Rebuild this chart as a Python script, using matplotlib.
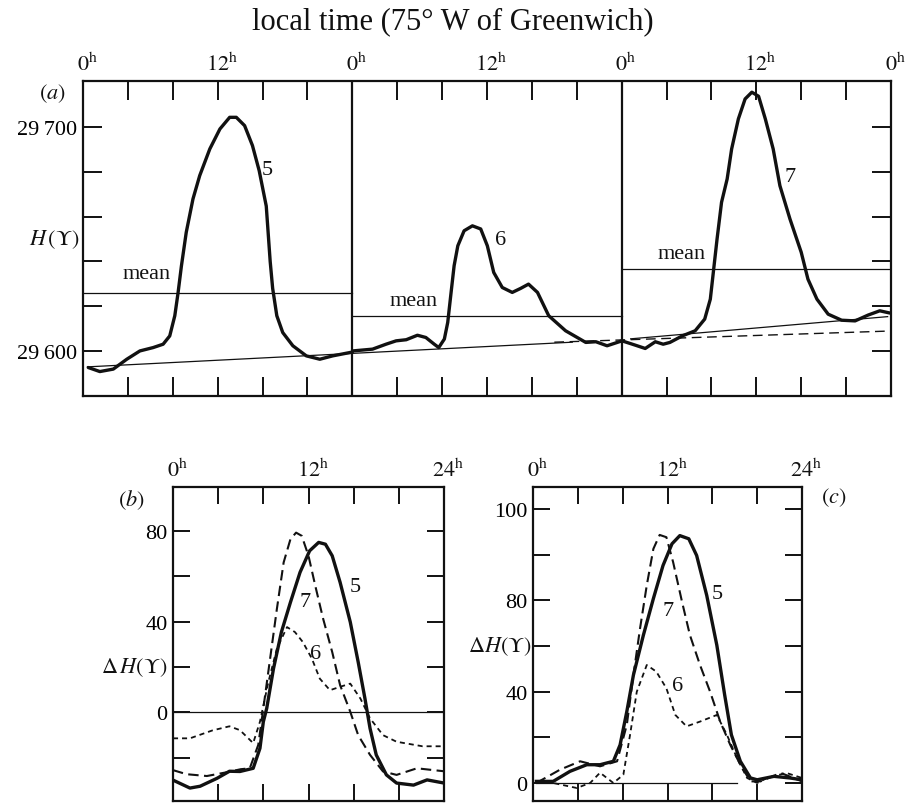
import matplotlib
matplotlib.use("Agg")
import matplotlib.pyplot as plt

plt.rcParams["font.family"] = ["Liberation Serif", "DejaVu Serif"]
plt.rcParams["mathtext.fontset"] = "stix"

# ── (a) H over three days, hours from 0h of day 5 ─────────────────────────
t_day5 = [0.47, 1.5, 2.7, 3.9, 5.07, 6.25, 7.14, 7.73, 8.18, 8.47, 8.77, 9.2, 9.8,
          10.4, 11.3, 12.2, 13.07, 13.66, 14.4, 15.1, 15.7, 16.33, 16.68, 16.9,
          17.27, 17.8, 18.7, 19.9, 21.1, 22.25, 24.0]
h_day5 = [29592.7, 29590.9, 29592.0, 29596.4, 29600.1, 29601.6, 29603.1, 29606.8,
          29615.8, 29626.0, 29638.0, 29653.0, 29667.9, 29678.3, 29690.2, 29699.1,
          29704.3, 29704.3, 29700.6, 29691.7, 29680.5, 29664.7, 29640.0, 29628.0,
          29615.8, 29608.3, 29602.4, 29597.9, 29596.4, 29597.9, 29599.6]
t_day6 = [24.03, 25.8, 27.0, 27.9, 28.8, 29.8, 30.55, 31.3, 31.7, 32.2, 32.5, 32.8,
          33.07, 33.4, 33.96, 34.7, 35.44, 36.03, 36.6, 37.36, 38.25, 39.0, 39.7,
          40.5, 41.5, 43.0, 44.8, 45.7, 46.7, 48.03]
h_day6 = [29600.1, 29600.9, 29603.1, 29604.6, 29605.1, 29607.1, 29606.1, 29603.1,
          29601.6, 29605.4, 29612.8, 29626.2, 29638.1, 29647.0, 29653.7, 29655.9,
          29654.5, 29647.0, 29635.1, 29628.4, 29626.2, 29628.0, 29629.9, 29626.2,
          29615.8, 29609.1, 29603.9, 29604.2, 29602.4, 29604.6]
t_day7 = [48.03, 49.2, 50.1, 51.0, 51.7, 52.3, 53.4, 54.55, 55.4, 55.9, 56.2, 56.5,
          56.9, 57.4, 57.8, 58.4, 59.0, 59.6, 60.2, 60.8, 61.5, 62.1, 63.0, 64.0,
          64.6, 65.4, 66.4, 67.6, 68.8, 69.96, 71.0, 71.9]
h_day7 = [29604.6, 29602.7, 29601.2, 29604.2, 29603.1, 29603.9, 29606.8, 29609.1,
          29614.3, 29623.2, 29636.6, 29650.0, 29666.4, 29676.8, 29690.2, 29703.6,
          29712.5, 29715.5, 29713.7, 29703.6, 29690.2, 29673.8, 29658.9, 29644.1,
          29632.1, 29623.2, 29616.5, 29613.8, 29613.5, 29616.1, 29618.0, 29617.0]
day_means = [29626.0, 29615.7, 29636.6]
base_t = [0.4, 43.6]
base_h = [29593.0, 29604.0]
base7_t = [48.8, 71.7]
base7_h = [29605.5, 29615.4]
dash_t = [42.0, 72.0]
dash_h = [29604.0, 29609.0]
top_hours_a = [0, 12, 24, 36, 48, 60, 72]
top_text_a = ["0", "12", "0", "12", "0", "12", "0"]

# ── (b) deviation from daily mean ─────────────────────────────────────────
tb5 = [0, 1.5, 2.4, 3.9, 5.0, 5.93, 7.1, 7.7, 8.0, 8.3, 8.9, 9.6, 10.4, 11.25,
       12.1, 12.9, 13.5, 14.1, 14.8, 15.7, 16.4, 17.0, 17.45, 18.0, 18.9, 19.8,
       21.3, 22.5, 23.9]
db5 = [-29.8, -33.3, -32.5, -29, -25.9, -26.0, -24.6, -15.8, -4.1, 1.8, 19.3,
       35.4, 48.5, 61.7, 71.2, 74.9, 74.1, 69, 57.3, 39.8, 22.2, 6.1, -7, -18.7,
       -27.5, -31.1, -32, -29.7, -31]
tb7 = [0, 1.2, 3.0, 4.8, 6.0, 6.8, 7.55, 8.0, 8.6, 9.2, 9.8, 10.4, 10.9, 11.4,
       12.0, 12.6, 13.3, 14.1, 14.8, 15.7, 16.4, 17.45, 18.6, 19.8, 21.6, 24]
db7 = [-25.4, -27.2, -28, -26.3, -25, -24.6, -14.3, 1.8, 23.7, 45.6, 66.1, 76.3,
       79.2, 77.8, 69, 55.8, 41.2, 26.6, 12, 0.3, -10, -18.7, -26, -27.5, -24.6,
       -25.9]
tb6 = [0, 1.5, 3.5, 5.0, 5.93, 7.1, 7.7, 8.45, 9.2, 10.1, 10.8, 11.5, 12.3, 13.0,
       13.9, 14.8, 15.7, 16.6, 17.45, 18.6, 19.8, 22.1, 24]
db6 = [-11.4, -11.4, -7.9, -6.1, -7.8, -13.5, -4.1, 13.5, 28.1, 37.6, 35.4, 31,
       23.7, 14.9, 9.8, 11.3, 12.7, 6.1, -2.6, -10, -12.9, -14.9, -14.9]

# ── (c) deviation from baseline ───────────────────────────────────────────
tc5 = [0.3, 1.8, 3.3, 4.8, 5.98, 7.17, 7.77, 8.37, 8.96, 9.85, 10.74, 11.6, 12.4,
       13.1, 13.9, 14.6, 15.5, 16.4, 17.1, 17.7, 18.5, 19.4, 20.0, 21.5, 22.9, 24]
dc5 = [0.7, 0.7, 5.1, 8.0, 8.0, 9.5, 16.7, 31.3, 47.3, 64.8, 80.8, 95.3, 104.8,
       108.4, 107, 99.7, 82.2, 60.4, 38.6, 21.1, 9.5, 2.2, 1.4, 2.9, 2.2, 1.4]
tc7 = [0.3, 2.4, 4.2, 5.98, 7.5, 8.37, 8.96, 9.55, 10.15, 10.74, 11.3, 11.9, 12.5,
       13.3, 14.0, 14.9, 15.8, 16.7, 17.6, 18.5, 19.4, 20.3, 22.1, 24]
dc7 = [0, 5.8, 9.5, 7.3, 9.5, 25.5, 47.3, 67.7, 86.6, 102.6, 108.7, 107.7, 96.8,
       79.3, 64.8, 51.7, 40, 26.9, 16.7, 8, 0.7, 0.7, 4.4, 0.7]
tc6 = [0.3, 1.8, 3.9, 5.1, 5.98, 7.17, 8.06, 8.66, 9.26, 10.15, 11.0, 11.9, 12.7,
       13.7, 14.9, 16.4, 17.3, 18.2, 19.1, 20.0, 20.9, 22.6, 24]
dc6 = [0.7, 0, -2.2, 0, 4.5, 0, 3.6, 21.1, 40, 51.7, 48.8, 41.5, 29.8, 24.8, 26.9,
       29.8, 21.1, 10.9, 2.2, 0, 2.2, 4.4, 2.2]
zero_c = [0.3, 18.2]
top_hours_bc = [0, 12, 24]
top_text_bc = ["0", "12", "24"]

W, H = 909, 804
fig = plt.figure(figsize=(W / 100, H / 100), dpi=100)
fig.patch.set_facecolor("white")
K = "#111111"
FS = 16


def axes_px(x0, y0, x1, y1):
    return fig.add_axes([x0 / W, 1 - y1 / H, (x1 - x0) / W, (y1 - y0) / H])


def frame(ax, ticklen):
    for s in ax.spines.values():
        s.set_linewidth(1.6)
        s.set_color(K)
    ax.tick_params(direction="in", length=ticklen, width=1.4, color=K,
                   top=True, right=True, labelbottom=False, labeltop=False,
                   labelsize=FS, pad=4)


def hour_labels(ax, hours, texts):
    for h, s in zip(hours, texts):
        ax.annotate(r"$%s^{\mathrm{h}}$" % s, xy=(h, 1),
                    xycoords=("data", "axes fraction"),
                    xytext=(3, 4), textcoords="offset points",
                    ha="center", va="bottom", fontsize=FS, color=K)


# ── panel (a) ─────────────────────────────────────────────────────────────
ax = axes_px(83, 82, 891, 397)
ax.set_xlim(0, 72)
ax.set_ylim(29580, 29720.5)
frame(ax, 14)
ax.set_xticks(range(0, 73, 4))
ax.set_yticks(range(29600, 29701, 20))
ax.set_yticklabels(["29\u2009600", "", "", "", "", "29\u2009700"])
for x in (24, 48):
    ax.axvline(x, color=K, lw=1.6)
for i, m in enumerate(day_means):
    ax.plot([24 * i, 24 * (i + 1)], [m, m], color=K, lw=0.9)
ax.plot(base_t, base_h, color=K, lw=0.9)
ax.plot(base7_t, base7_h, color=K, lw=0.9)
ax.plot(dash_t, dash_h, color=K, lw=1.0, dashes=(7, 4))
for tt, hh in ((t_day5, h_day5), (t_day6, h_day6), (t_day7, h_day7)):
    ax.plot(tt, hh, color=K, lw=2.4, solid_joinstyle="round", solid_capstyle="round")
ax.text(5.7, 29630.5, "mean", ha="center", va="bottom", fontsize=FS, color=K)
ax.text(29.5, 29618.5, "mean", ha="center", va="bottom", fontsize=FS, color=K)
ax.text(53.3, 29639.5, "mean", ha="center", va="bottom", fontsize=FS, color=K)
ax.text(16.4, 29681, "5", ha="center", va="center", fontsize=FS, color=K)
ax.text(37.2, 29650, "6", ha="center", va="center", fontsize=FS, color=K)
ax.text(63.0, 29678, "7", ha="center", va="center", fontsize=FS, color=K)
hour_labels(ax, top_hours_a, top_text_a)
ax.text(-0.004, 29650, r"$H\,(\Upsilon)$", transform=ax.get_yaxis_transform(),
        ha="right", va="center", fontsize=FS, color=K)
ax.text(-0.021, 1.0, r"$(a)$", transform=ax.transAxes, ha="right", va="top",
        fontsize=FS, color=K)
fig.text(453 / W, 1 - 22 / H, "local time (75\u00b0 W of Greenwich)", ha="center",
         va="center", fontsize=22, color=K)

# ── panel (b) ─────────────────────────────────────────────────────────────
ax = axes_px(173, 488, 444, 802)
ax.set_xlim(0, 24)
ax.set_ylim(-39, 99.3)
frame(ax, 12)
ax.set_xticks(range(0, 25, 4))
ax.set_yticks(range(-20, 81, 20))
ax.set_yticklabels(["", "0", "", "40", "", "80"])
ax.axhline(0, color=K, lw=0.9)
ax.plot(tb5, db5, color=K, lw=2.4, solid_joinstyle="round")
ax.plot(tb7, db7, color=K, lw=1.5, dashes=(5, 2.6))
ax.plot(tb6, db6, color=K, lw=1.3, dashes=(2.8, 2.2))
ax.text(16.1, 55.3, "5", ha="center", va="center", fontsize=FS, color=K)
ax.text(11.7, 48.7, "7", ha="center", va="center", fontsize=FS, color=K)
ax.text(12.6, 25.9, "6", ha="center", va="center", fontsize=FS, color=K)
hour_labels(ax, top_hours_bc, top_text_bc)
ax.text(-0.022, 20, r"$\Delta\,H(\Upsilon)$", transform=ax.get_yaxis_transform(),
        ha="right", va="center", fontsize=FS, color=K)
ax.text(-0.103, 1.0, r"$(b)$", transform=ax.transAxes, ha="right", va="top",
        fontsize=FS, color=K)

# ── panel (c) ─────────────────────────────────────────────────────────────
ax = axes_px(533, 488, 802, 802)
ax.set_xlim(0, 24)
ax.set_ylim(-7.9, 129.7)
frame(ax, 12)
ax.set_xticks(range(0, 25, 4))
ax.set_yticks(range(0, 121, 20))
ax.set_yticklabels(["0", "", "40", "", "80", "", "100"])
ax.plot(zero_c, [0, 0], color=K, lw=0.9)
ax.plot(tc5, dc5, color=K, lw=2.4, solid_joinstyle="round")
ax.plot(tc7, dc7, color=K, lw=1.5, dashes=(5, 2.6))
ax.plot(tc6, dc6, color=K, lw=1.3, dashes=(2.8, 2.2))
ax.text(16.4, 83, "5", ha="center", va="center", fontsize=FS, color=K)
ax.text(12.05, 75.5, "7", ha="center", va="center", fontsize=FS, color=K)
ax.text(12.86, 42.8, "6", ha="center", va="center", fontsize=FS, color=K)
hour_labels(ax, top_hours_bc, top_text_bc)
ax.text(-0.005, 60, r"$\Delta H(\Upsilon)$", transform=ax.get_yaxis_transform(),
        ha="right", va="center", fontsize=FS, color=K)
ax.text(1.07, 0.97, r"$(c)$", transform=ax.transAxes, ha="left", va="center",
        fontsize=FS, color=K)

fig.savefig("out.png", dpi=100, facecolor="white")
